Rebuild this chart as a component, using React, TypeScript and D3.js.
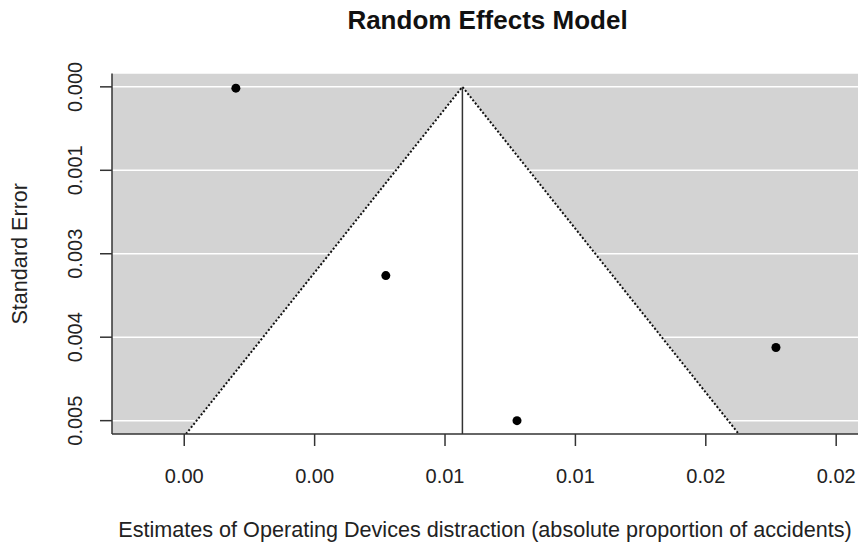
import React from "react";
import * as d3 from "d3";

// Study estimates (x) and their standard errors (y)
const estimates: number[] = [-0.00202, 0.00373, 0.00876, 0.01869];
const standardErrors: number[] = [0.00002, 0.00294, 0.0052, 0.00406];
// Random-effects pooled estimate
const pooledEstimate: number[] = [0.006667];

const xTickValues: number[] = [-0.004, 0.001, 0.006, 0.011, 0.016, 0.021];
const xTickLabels: string[] = ["0.00", "0.00", "0.01", "0.01", "0.02", "0.02"];
const yTickValues: number[] = [0, 0.0013, 0.0026, 0.0039, 0.0052];
const yTickLabels: string[] = ["0.000", "0.001", "0.003", "0.004", "0.005"];

const title = "Random Effects Model";
const xTitle = "Estimates of Operating Devices distraction (absolute proportion of accidents)";
const yTitle = "Standard Error";

const W = 858;
const H = 545;

export default function App() {
  const left = 112;
  const right = 880;
  const top = 73.5;
  const bottom = 434;

  const seMax = d3.max(standardErrors) as number;
  const yPad = seMax * 0.04;
  const y = d3.scaleLinear().domain([-yPad, seMax + yPad]).range([top, bottom]);
  const x = d3.scaleLinear().domain([-0.00677, 0.02268]).range([left, right]);

  const mu = pooledEstimate[0];
  const seBottom = seMax + yPad;
  const z = 1.96;
  const tri = [
    [x(mu), y(0)],
    [x(mu - z * seBottom), y(seBottom)],
    [x(mu + z * seBottom), y(seBottom)],
  ];
  const line = d3.line();

  const font = "Liberation Sans, Arial, sans-serif";

  return (
    <svg
      width={W}
      height={H}
      style={{ position: "absolute", left: 0, top: 0, background: "#fff" }}
      fontFamily={font}
    >
      <defs>
        <clipPath id="plotclip">
          <rect x={left} y={top} width={right - left} height={bottom - top} />
        </clipPath>
      </defs>
      <g clipPath="url(#plotclip)">
        <rect x={left} y={top} width={right - left} height={bottom - top} fill="#d3d3d3" />
        {yTickValues.map((v, i) => (
          <line key={i} x1={left} x2={right} y1={y(v)} y2={y(v)} stroke="#fff" strokeWidth={1.5} />
        ))}
        <path d={line(tri as [number, number][]) + "Z"} fill="#fff" />
        <path
          d={line([tri[1], tri[0], tri[2]] as [number, number][]) || ""}
          fill="none"
          stroke="#111"
          strokeWidth={2}
          strokeDasharray="2,2"
        />
        <line x1={x(mu)} x2={x(mu)} y1={y(0)} y2={bottom} stroke="#333" strokeWidth={1.5} />
        {estimates.map((e, i) => (
          <circle key={i} cx={x(e)} cy={y(standardErrors[i])} r={4.5} fill="#000" />
        ))}
      </g>
      {/* axes lines */}
      <line x1={left} x2={left} y1={top} y2={bottom} stroke="#333" strokeWidth={1.5} />
      <line x1={left} x2={W} y1={bottom} y2={bottom} stroke="#333" strokeWidth={1.5} />
      {yTickValues.map((v, i) => (
        <g key={"yt" + i}>
          <line x1={left - 12} x2={left} y1={y(v)} y2={y(v)} stroke="#333" strokeWidth={1.5} />
          <text
            transform={`translate(${82},${y(v)}) rotate(-90)`}
            textAnchor="middle"
            fontSize={20}
            fill="#222"
          >
            {yTickLabels[i]}
          </text>
        </g>
      ))}
      {xTickValues.map((v, i) => (
        <g key={"xt" + i}>
          <line x1={x(v)} x2={x(v)} y1={bottom} y2={bottom + 12} stroke="#333" strokeWidth={1.5} />
          <text x={x(v)} y={483} textAnchor="middle" fontSize={20} fill="#222">
            {xTickLabels[i]}
          </text>
        </g>
      ))}
      <text x={485} y={537} textAnchor="middle" fontSize={21.6} fill="#222">
        {xTitle}
      </text>
      <text
        transform={`translate(${27},${(top + bottom) / 2}) rotate(-90)`}
        textAnchor="middle"
        fontSize={21.6}
        fill="#222"
      >
        {yTitle}
      </text>
      <text x={487.5} y={29} textAnchor="middle" fontSize={26} fontWeight="bold" fill="#111">
        {title}
      </text>
    </svg>
  );
}
